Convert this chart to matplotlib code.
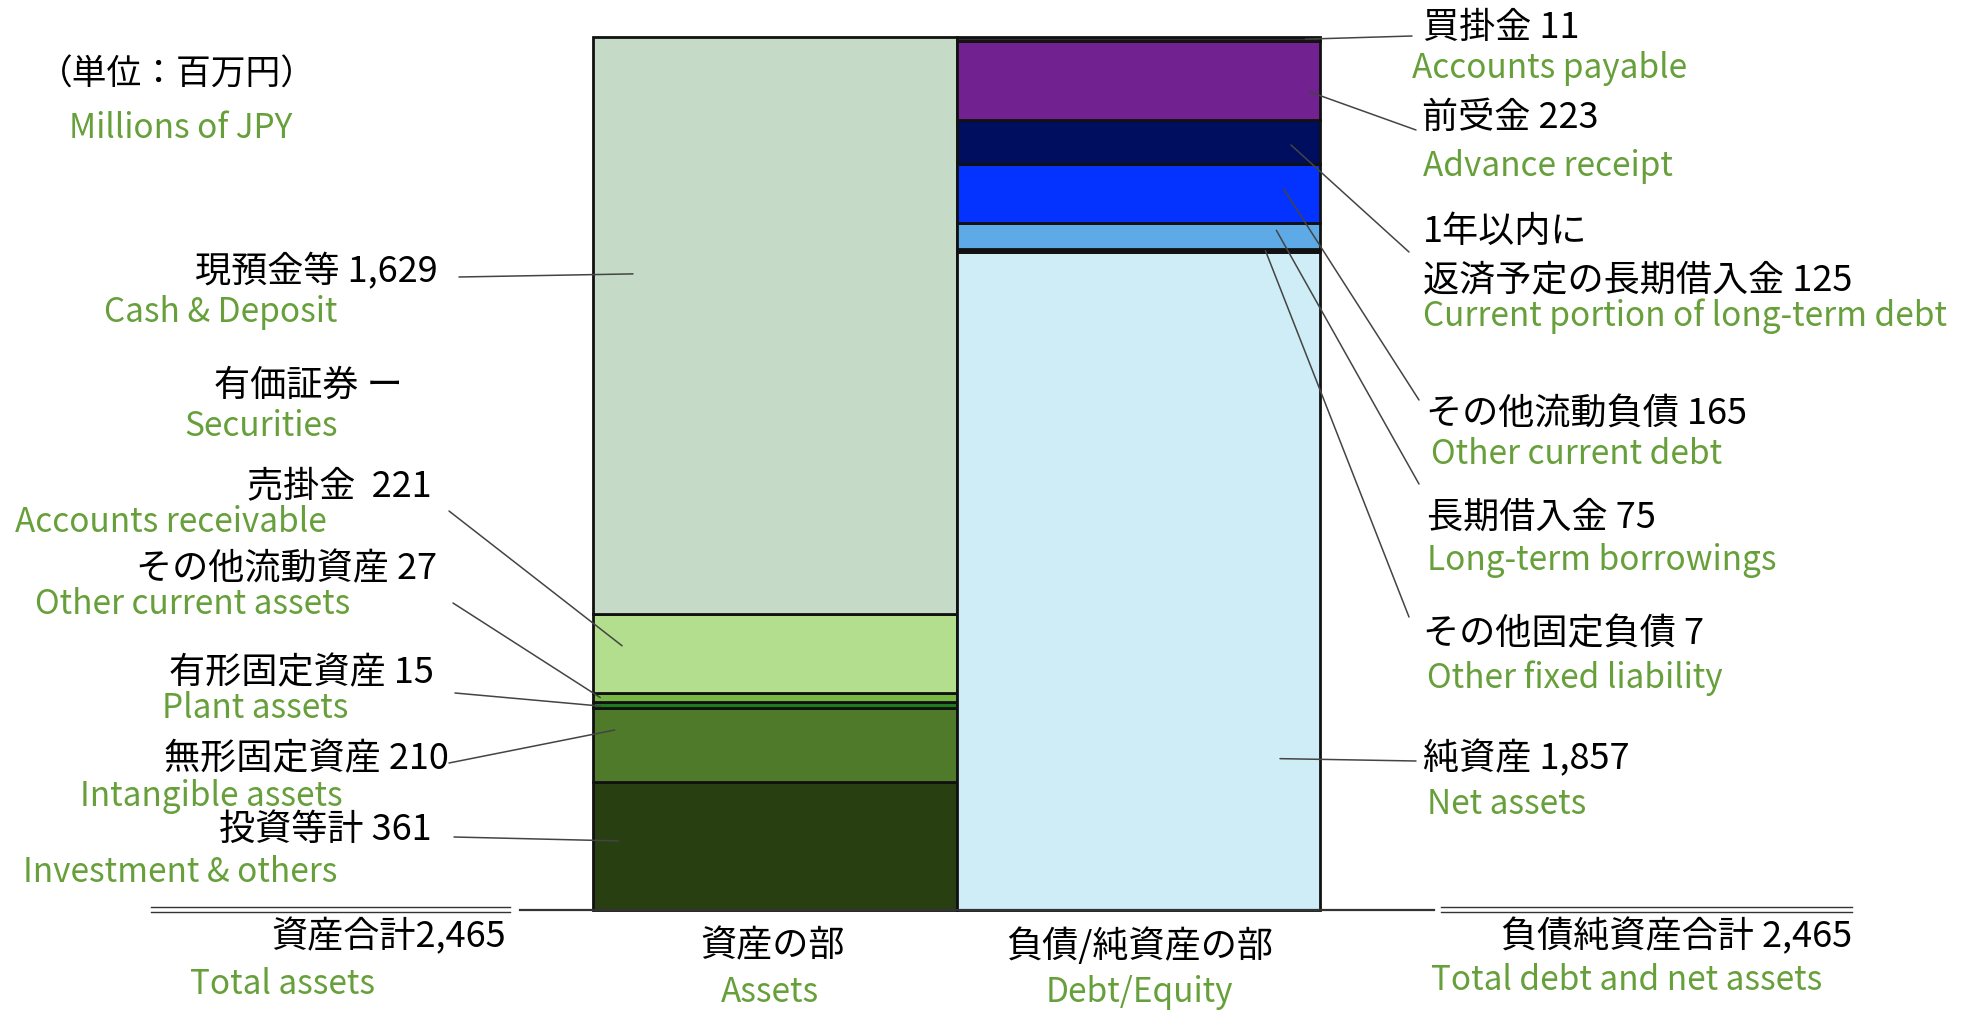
import matplotlib

matplotlib.use("Agg")
import matplotlib.pyplot as plt

plt.rcParams["font.family"] = ["Noto Sans CJK JP", "DejaVu Sans"]

W, H = 1973, 1011
GREEN = "#67A03B"

# assets, bottom to top
asset_jp = ["投資等計 361", "無形固定資産 210", "有形固定資産 15",
            "その他流動資産 27", "売掛金  221", "現預金等 1,629"]
asset_en = ["Investment & others", "Intangible assets", "Plant assets",
            "Other current assets", "Accounts receivable", "Cash & Deposit"]
asset_vals = [361, 210, 15, 27, 221, 1629]
asset_colors = ["#283F11", "#4E7A2A", "#1E7B1E", "#76B843", "#B3DE8E", "#C5DBC7"]

# debt / equity, bottom to top
liab_jp = ["純資産 1,857", "その他固定負債 7", "長期借入金 75", "その他流動負債 165",
           "1年以内に\n返済予定の長期借入金 125", "前受金 223", "買掛金 11"]
liab_en = ["Net assets", "Other fixed liability", "Long-term borrowings",
           "Other current debt", "Current portion of long-term debt",
           "Advance receipt", "Accounts payable"]
liab_vals = [1857, 7, 75, 165, 125, 223, 11]
liab_colors = ["#CFEDF7", "#111111", "#5EAAE6", "#0433FF", "#000E60", "#712190", "#2F2F2F"]

total_assets = 2465
total_liab = 2465


def px(x, y):
    # full-size pixel (top-left origin) -> figure fraction
    return x / W, 1 - y / H


fig = plt.figure(figsize=(W / 100, H / 100), dpi=100)
ax = fig.add_axes([593 / W, 1 - 910 / H, (1320 - 593) / W, (910 - 36.5) / H])
ax.set_xlim(0, 2)
ax.set_ylim(0, total_assets)
ax.axis("off")

bottoms_a = []
bottom = 0
for v, c in zip(asset_vals, asset_colors):
    ax.bar(0.5, v, width=1, bottom=bottom, color=c, edgecolor="#111111",
           linewidth=2, clip_on=False)
    bottoms_a.append(bottom)
    bottom += v

bottoms_l = []
bottom = 0
for v, c in zip(liab_vals, liab_colors):
    ax.bar(1.5, v, width=1, bottom=bottom, color=c, edgecolor="#111111",
           linewidth=2, clip_on=False)
    bottoms_l.append(bottom)
    bottom += v

# baseline and double rules
fig.add_artist(plt.Line2D([520 / W, 1434 / W], [1 - 910 / H] * 2, color="#333333", lw=1.6))
for yy in (907, 912):
    fig.add_artist(plt.Line2D([151 / W, 510 / W], [1 - yy / H] * 2, color="#333333", lw=1))
    fig.add_artist(plt.Line2D([1441 / W, 1852 / W], [1 - yy / H] * 2, color="#333333", lw=1))

JP = 26
EN = 24

# left labels: (jp right x, jp y, en left x, en y, line start, bar end x, end fraction in segment)
left_pos = [
    (432, 830, 23, 873, (454, 837), 0.07, 0.54),
    (449, 759, 80, 797, (449, 763), 0.06, 0.70),
    (434, 673, 162, 708, (455, 693), 0.02, 0.3),
    (437, 569, 35, 605, (453, 603), 0.02, 0.5),
    (432, 486, 15, 523, (449, 511), 0.08, 0.6),
    (438, 272, 104, 313, (459, 277), 0.11, 0.59),
]
for jp, en, v, b, (jx, jy, ex, ey, ls, bx, fr) in zip(asset_jp, asset_en, asset_vals,
                                                       bottoms_a, left_pos):
    fig.text(*px(jx, jy), jp, fontsize=JP, ha="right", va="center")
    fig.text(*px(ex, ey), en, fontsize=EN, ha="left", va="center", color=GREEN)
    ax.annotate("", xy=(bx, b + v * fr), xycoords="data", xytext=px(*ls),
                textcoords="figure fraction",
                arrowprops=dict(arrowstyle="-", color="#444444", lw=1.1,
                                shrinkA=0, shrinkB=0))

fig.text(*px(403, 386), "有価証券 ー", fontsize=JP, ha="right", va="center")
fig.text(*px(184, 427), "Securities", fontsize=EN, ha="left", va="center", color=GREEN)

# right labels
right_pos = [
    (1423, 759, 1427, 805, (1416, 761), 1.89, 0.23),
    (1423, 634, 1427, 678, (1409, 617), 1.85, 0.5),
    (1427, 518, 1427, 561, (1419, 484), 1.88, 0.72),
    (1426, 415, 1431, 455, (1419, 400), 1.90, 0.58),
    (1423, 256, 1423, 316, (1409, 252), 1.92, 0.44),
    (1422, 118, 1423, 166, (1416, 130), 1.97, 0.36),
    (1423, 28, 1412, 69, (1412, 36), 1.96, 0.5),
]
for jp, en, v, b, (jx, jy, ex, ey, ls, bx, fr) in zip(liab_jp, liab_en, liab_vals,
                                                       bottoms_l, right_pos):
    fig.text(*px(jx, jy), jp, fontsize=JP, ha="left", va="center", linespacing=1.45)
    fig.text(*px(ex, ey), en, fontsize=EN, ha="left", va="center", color=GREEN)
    ax.annotate("", xy=(bx, b + v * fr), xycoords="data", xytext=px(*ls),
                textcoords="figure fraction",
                arrowprops=dict(arrowstyle="-", color="#444444", lw=1.1,
                                shrinkA=0, shrinkB=0))

# headers and totals
fig.text(*px(38, 75), "（単位：百万円）", fontsize=JP - 1, ha="left", va="center")
fig.text(*px(69, 128), "Millions of JPY", fontsize=EN, ha="left", va="center", color=GREEN)
fig.text(*px(506, 937), f"資産合計{total_assets:,}", fontsize=JP, ha="right", va="center")
fig.text(*px(190, 985), "Total assets", fontsize=EN, ha="left", va="center", color=GREEN)
fig.text(*px(1852, 937), f"負債純資産合計 {total_liab:,}", fontsize=JP, ha="right", va="center")
fig.text(*px(1431, 980), "Total debt and net assets", fontsize=EN, ha="left", va="center", color=GREEN)
fig.text(*px(773, 946), "資産の部", fontsize=JP, ha="center", va="center")
fig.text(*px(770, 992), "Assets", fontsize=EN, ha="center", va="center", color=GREEN)
fig.text(*px(1140, 946), "負債/純資産の部", fontsize=JP, ha="center", va="center")
fig.text(*px(1139, 992), "Debt/Equity", fontsize=EN, ha="center", va="center", color=GREEN)

fig.savefig("out.png", dpi=100)
